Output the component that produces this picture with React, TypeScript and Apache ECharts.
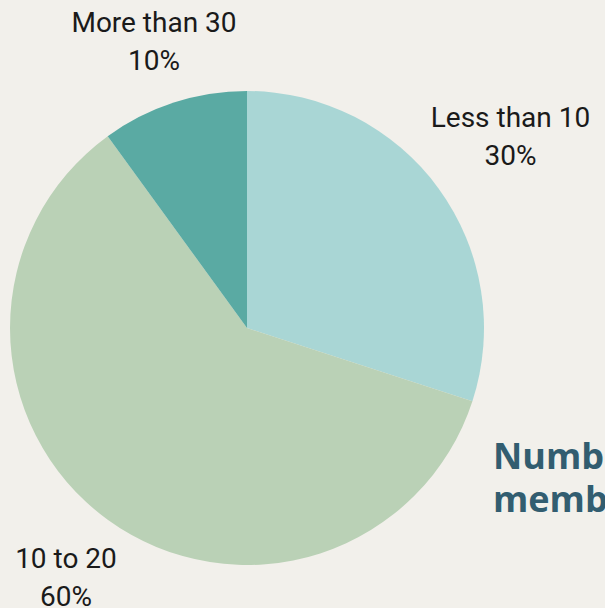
import React, { useEffect, useRef } from "react";
import * as echarts from "echarts";

const categories = ["Less than 10", "10 to 20", "More than 30"];
const shares = [30, 60, 10];
const colors = ["#a9d6d5", "#bad1b6", "#5aaaa3"];
const titleText = "Number of\nmembers";

const CX = 247;
const CY = 328;
const R = 237;
const GAP = 24;

export default function App() {
  const ref = useRef<HTMLDivElement>(null);
  useEffect(() => {
    if (!ref.current) return;
    const chart = echarts.init(ref.current, null, { renderer: "svg" });
    const total = shares.reduce((a, b) => a + b, 0);
    const mids: number[] = [];
    let acc = 0;
    shares.forEach((v) => {
      mids.push(((acc + v / 2) / total) * Math.PI * 2);
      acc += v;
    });
    chart.setOption({
      animation: false,
      backgroundColor: "#f2f0eb",
      title: {
        text: titleText,
        left: 493,
        top: 434,
        padding: 0,
        textStyle: {
          fontFamily: "Open Sans",
          fontWeight: "bold",
          fontSize: 36,
          lineHeight: 43,
          color: "#325d70",
        },
      },
      series: [
        {
          type: "pie",
          center: [CX, CY],
          radius: [0, R],
          startAngle: 90,
          clockwise: true,
          silent: true,
          data: categories.map((c, i) => ({
            name: c,
            value: shares[i],
            itemStyle: { color: colors[i] },
          })),
          label: {
            show: true,
            position: "outside",
            overflow: "none",
            formatter: (p: any) => `${p.name}\n${p.percent.toFixed(0)}%`,
            fontFamily: "Roboto",
            fontSize: 28,
            lineHeight: 38,
            color: "#1a1a1a",
            align: "center",
          },
          labelLine: { show: false },
          labelLayout: (params: any) => {
            const a = mids[params.dataIndex];
            const ux = Math.sin(a);
            const uy = -Math.cos(a);
            const w = params.labelRect.width / 2;
            const h = params.labelRect.height / 2;
            const t = Math.min(
              Math.abs(ux) > 1e-6 ? w / Math.abs(ux) : Infinity,
              Math.abs(uy) > 1e-6 ? h / Math.abs(uy) : Infinity
            );
            const d = R + GAP + t;
            return {
              x: CX + ux * d,
              y: CY + uy * d,
              align: "center",
              verticalAlign: "middle",
            };
          },
        },
      ],
    });
    return () => chart.dispose();
  }, []);
  return (
    <div
      ref={ref}
      style={{ position: "fixed", left: 0, top: 0, width: 605, height: 608 }}
    />
  );
}
